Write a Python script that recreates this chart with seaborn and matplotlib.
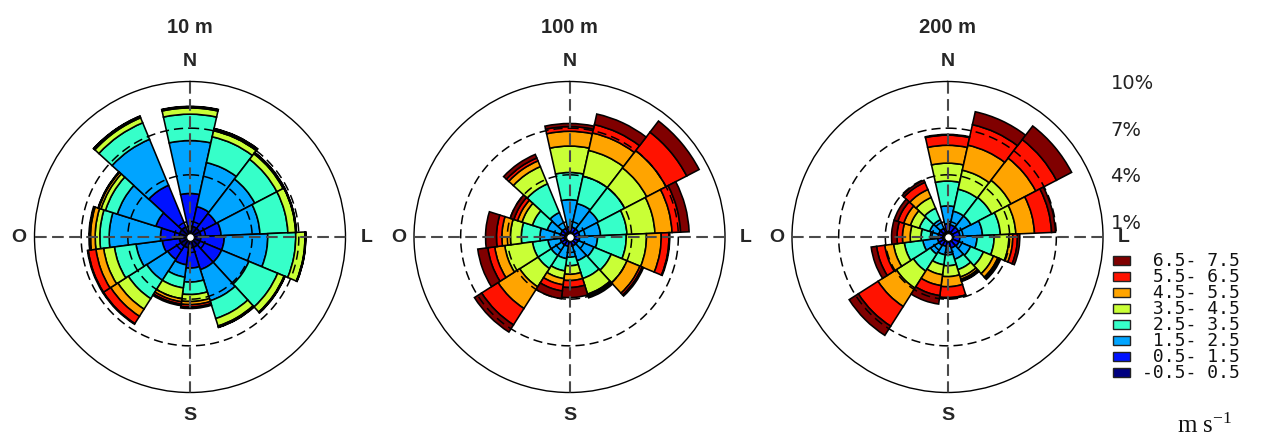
import numpy as np
import matplotlib
matplotlib.use("Agg")
import matplotlib.pyplot as plt
from matplotlib.patches import Rectangle
import seaborn as sns

# ---------------------------------------------------------------- data
heights = ["10 m", "100 m", "200 m"]
# direction sectors (degrees clockwise from north)
sector_centre_deg = [0, 25, 50, 75, 100, 125, 150, 175, 200, 225, 250, 275, 300, 325]
# wind-speed class limits (m/s)
speed_edges = [-0.5, 0.5, 1.5, 2.5, 3.5, 4.5, 5.5, 6.5, 7.5]
compass = ["N", "L", "S", "O"]
ring_levels = [1, 4, 7, 10]

# cumulative frequency (%) up to the top of each speed class, one row per sector
cum_10m = [
    [0.70, 2.80, 6.20, 7.90, 8.30, 8.35, 8.38, 8.40],
    [0.70, 2.00, 4.90, 6.60, 7.00, 7.08, 7.13, 7.15],
    [0.70, 1.90, 4.70, 6.30, 6.75, 6.80, 6.83, 6.85],
    [0.70, 2.00, 4.50, 6.30, 6.80, 6.82, 6.84, 6.85],
    [0.70, 2.20, 5.00, 6.80, 7.40, 7.42, 7.44, 7.45],
    [0.70, 2.20, 4.10, 6.10, 6.55, 6.58, 6.60, 6.62],
    [0.70, 2.20, 4.30, 5.50, 6.00, 6.05, 6.08, 6.10],
    [0.70, 2.00, 2.90, 3.70, 4.15, 4.35, 4.50, 4.60],
    [0.70, 1.80, 2.60, 3.30, 4.00, 4.20, 4.35, 4.45],
    [0.70, 1.70, 3.30, 4.70, 5.50, 6.05, 6.60, 6.65],
    [0.70, 1.80, 3.50, 4.90, 5.60, 6.10, 6.60, 6.65],
    [0.70, 1.90, 5.20, 5.80, 6.10, 6.40, 6.45, 6.50],
    [0.70, 2.30, 4.90, 5.70, 6.00, 6.15, 6.18, 6.20],
    [0.70, 3.60, 6.80, 7.95, 8.30, 8.38, 8.40, 8.42],
]
cum_100m = [
    [0.30, 0.65, 2.40, 4.15, 5.85, 6.80, 7.10, 7.30],
    [0.30, 0.65, 2.20, 4.00, 5.70, 6.85, 7.40, 8.10],
    [0.30, 0.65, 2.10, 4.00, 5.60, 7.00, 8.50, 9.40],
    [0.30, 0.65, 2.00, 3.70, 5.50, 6.60, 7.15, 7.70],
    [0.30, 0.65, 1.80, 3.65, 4.95, 5.90, 6.40, 6.45],
    [0.30, 0.60, 1.70, 2.90, 4.00, 4.90, 5.05, 5.15],
    [0.30, 0.60, 1.60, 2.80, 3.85, 3.95, 4.00, 4.10],
    [0.30, 0.60, 1.30, 1.85, 2.40, 2.80, 3.25, 3.90],
    [0.30, 0.60, 1.40, 2.20, 2.70, 3.10, 3.50, 4.00],
    [0.30, 0.60, 1.40, 2.40, 3.80, 5.45, 6.70, 7.25],
    [0.30, 0.60, 1.40, 2.40, 4.20, 4.85, 5.30, 5.95],
    [0.30, 0.60, 1.90, 3.10, 3.80, 4.35, 4.70, 5.40],
    [0.30, 0.60, 1.50, 2.50, 3.20, 3.50, 3.75, 4.00],
    [0.30, 0.60, 1.70, 3.70, 4.90, 5.30, 5.50, 5.75],
]
cum_200m = [
    [0.35, 0.85, 2.00, 3.60, 4.75, 5.90, 6.55, 6.60],
    [0.35, 0.80, 1.70, 3.15, 4.40, 6.05, 7.40, 8.25],
    [0.35, 0.80, 1.70, 3.20, 4.60, 6.40, 7.90, 9.00],
    [0.35, 0.80, 2.25, 3.40, 4.40, 5.60, 6.70, 6.95],
    [0.35, 0.80, 1.90, 3.00, 3.95, 4.20, 4.50, 4.65],
    [0.35, 0.80, 1.60, 2.50, 3.20, 3.50, 3.60, 3.70],
    [0.35, 0.75, 1.50, 2.20, 2.70, 2.85, 2.95, 3.00],
    [0.30, 0.60, 1.15, 1.85, 2.55, 3.20, 3.90, 3.95],
    [0.30, 0.60, 1.15, 1.80, 2.45, 3.15, 3.80, 4.35],
    [0.30, 0.65, 1.30, 2.60, 3.90, 5.30, 6.80, 7.50],
    [0.30, 0.65, 1.60, 2.80, 3.50, 4.07, 4.60, 4.95],
    [0.30, 0.60, 1.10, 1.70, 2.40, 2.90, 3.25, 3.60],
    [0.30, 0.60, 1.20, 1.90, 2.50, 2.95, 3.35, 3.60],
    [0.30, 0.60, 1.20, 2.00, 2.75, 3.30, 3.80, 3.95],
]
tables = [cum_10m, cum_100m, cum_200m]

# ---------------------------------------------------------------- style
sns.set_theme(style="white")
plt.rcParams["font.family"] = ["DejaVu Sans"]
plt.rcParams["mathtext.fontset"] = "custom"
plt.rcParams["mathtext.rm"] = "Liberation Serif"
plt.rcParams["mathtext.it"] = "Liberation Serif:italic"

class_colors = sns.color_palette(
    ["#000080", "#0012FF", "#00A4FF", "#36FFC9",
     "#C9FF36", "#FFA400", "#FF1200", "#800000"]
)

W, H = 1265, 437
fig = plt.figure(figsize=(W / 100, H / 100), dpi=100)
fig.patch.set_facecolor("white")

centres_px = [(190.0, 237.0), (569.5, 237.0), (947.5, 237.0)]
R_PX = 155.5
SECTOR_WIDTH = np.deg2rad(25)
theta = np.deg2rad(sector_centre_deg)
circle = np.linspace(0, 2 * np.pi, 721)

axes = []
for (cx, cy), name, table in zip(centres_px, heights, tables):
    ax = fig.add_axes([(cx - R_PX) / W, (H - cy - R_PX) / H, 2 * R_PX / W, 2 * R_PX / H],
                      projection="polar")
    ax.set_theta_zero_location("N")
    ax.set_theta_direction(-1)
    ax.set_ylim(0, ring_levels[-1])
    ax.set_xticks([])
    ax.set_yticks([])
    ax.grid(False)
    ax.set_facecolor("none")
    ax.spines["polar"].set_color("black")
    ax.spines["polar"].set_linewidth(1.0)

    cum = np.asarray(table)
    base = np.zeros(len(theta))
    for k in range(cum.shape[1]):
        ax.bar(theta, cum[:, k] - base, width=SECTOR_WIDTH, bottom=base,
               color=class_colors[k], edgecolor="black", linewidth=1.15, zorder=2)
        base = cum[:, k]

    # dashed frequency rings and compass cross drawn over the bars
    for lvl in ring_levels[:-1]:
        ax.plot(circle, np.full_like(circle, lvl), color="black", lw=1.1,
                ls=(0, (6.0, 3.3)), zorder=4)
    for ang in (0, 90, 180, 270):
        ax.plot([np.deg2rad(ang)] * 2, [ring_levels[-1], 0], color="#4a4a4a", lw=1.5,
                ls=(0, (5.6, 2.6)), zorder=4)
    ax.plot([0], [0], "o", ms=5.5, mfc="white", mec="black", mew=0.8, zorder=6,
            clip_on=False)

    ax.text(0, 13.45, name, ha="center", va="center", fontsize=14.5,
            fontweight="bold", family="Liberation Sans")
    for lab, ang, r in zip(compass, (0, 90, 180, 270), (11.3, 11.35, 11.5, 11.0)):
        ax.text(np.deg2rad(ang), r, lab, ha="center", va="center", fontsize=14,
                fontweight="bold", family="Liberation Sans")
    axes.append(ax)

# ring labels beside the last rose
for lvl in ring_levels:
    axes[-1].annotate(f"{lvl}%", xy=(0, lvl), xytext=(163, -2), textcoords="offset pixels",
                      ha="left", va="center", fontsize=14, color="#222222",
                      annotation_clip=False)

# speed-class key
row_top = 260.5
row_step = 16.0
n_cls = len(speed_edges) - 1
for i in range(n_cls):
    k = n_cls - 1 - i
    yc = row_top + i * row_step
    fig.add_artist(Rectangle((1113 / W, (H - yc - 4.5) / H), 17 / W, 9 / H,
                             transform=fig.transFigure, facecolor=class_colors[k],
                             edgecolor="#222222", linewidth=1.0))
    fig.text(1142 / W, (H - yc) / H, f"{speed_edges[k]:4.1f}-{speed_edges[k + 1]:4.1f}",
             ha="left", va="center", fontsize=13, family="DejaVu Sans Mono",
             color="#111111")
fig.text(1205 / W, (H - 433) / H, r"m s$^{-1}$", ha="center", va="baseline",
         fontsize=18, family="Liberation Serif", color="#111111")

fig.savefig("out.png", dpi=100, facecolor="white")
